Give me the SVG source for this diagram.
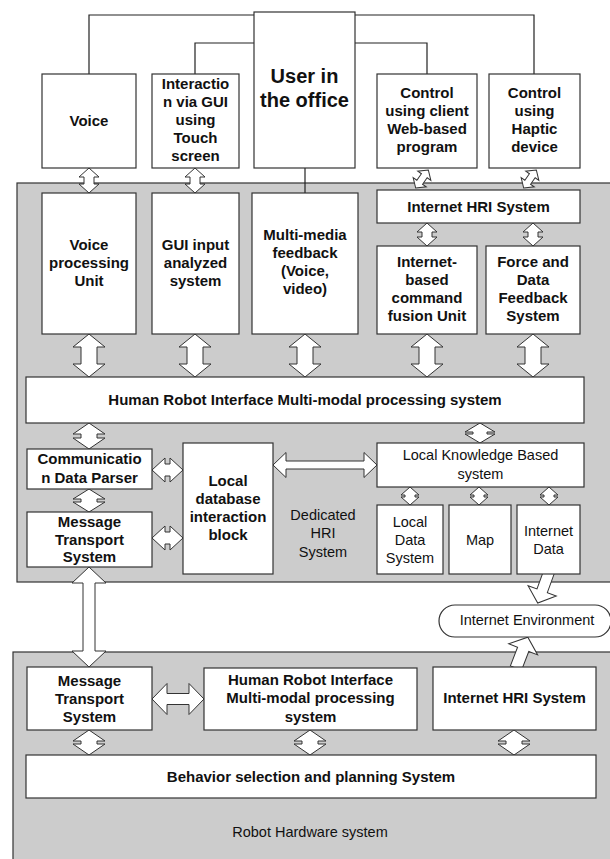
<svg xmlns="http://www.w3.org/2000/svg" width="610" height="859" viewBox="0 0 610 859">
<style>
.panel{fill:#cccccc;stroke:#333;stroke-width:1.2}
.box{fill:#fff;stroke:#333;stroke-width:1.2}
.ar{fill:#fff;stroke:#333;stroke-width:1}
.ln{fill:none;stroke:#222;stroke-width:1.2}
text{font-family:"Liberation Sans",Arial,sans-serif;fill:#111;text-anchor:middle}
.b{font-size:15px;font-weight:bold}
.u{font-size:20px;font-weight:bold}
.n{font-size:14.5px}
</style>
<rect class="panel" x="17" y="183" width="610" height="399"/>
<rect class="panel" x="13" y="652" width="620" height="220"/>
<g id="connectors">
<polyline class="ln" points="89,74 89,15 254,15"/>
<polyline class="ln" points="355,15 534,15 534,74"/>
<polyline class="ln" points="195,74 195,43 254,43"/>
<polyline class="ln" points="355,43 427,43 427,74"/>
<line class="ln" x1="305" y1="168" x2="305" y2="193"/>
<polygon class="ar" points="89,168 99,177 94,177 94,184 99,184 89,193 79,184 84,184 84,177 79,177"/>
<polygon class="ar" points="195,168 205,177 200,177 200,184 205,184 195,193 185,184 190,184 190,177 185,177"/>
<polygon class="ar" transform="translate(422,179) rotate(35)" points="0,-11 8,-4 3.5,-4 3.5,4 8,4 0,11 -8,4 -3.5,4 -3.5,-4 -8,-4"/>
<polygon class="ar" transform="translate(530,179) rotate(35)" points="0,-11 8,-4 3.5,-4 3.5,4 8,4 0,11 -8,4 -3.5,4 -3.5,-4 -8,-4"/>
<polygon class="ar" points="427,223 437,232 432,232 432,237 437,237 427,246 417,237 422,237 422,232 417,232"/>
<polygon class="ar" points="533,223 543,232 538,232 538,237 543,237 533,246 523,237 528,237 528,232 523,232"/>
<polygon class="ar" points="89,334 105,347 97,347 97,364 105,364 89,377 73,364 81,364 81,347 73,347"/>
<polygon class="ar" points="195,334 211,347 203,347 203,364 211,364 195,377 179,364 187,364 187,347 179,347"/>
<polygon class="ar" points="305,334 321,347 313,347 313,364 321,364 305,377 289,364 297,364 297,347 289,347"/>
<polygon class="ar" points="427,334 443,347 435,347 435,364 443,364 427,377 411,364 419,364 419,347 411,347"/>
<polygon class="ar" points="533,334 549,347 541,347 541,364 549,364 533,377 517,364 525,364 525,347 517,347"/>
<polygon class="ar" points="89,423 105,434 97,434 97,438 105,438 89,449 73,438 81,438 81,434 73,434"/>
<polygon class="ar" points="89,489 105,499 97,499 97,502 105,502 89,512 73,502 81,502 81,499 73,499"/>
<polygon class="ar" points="480,423 495,432 487,432 487,434 495,434 480,443 465,434 473,434 473,432 465,432"/>
<polygon class="ar" points="410,487 419,495 415,495 415,497 419,497 410,505 401,497 405,497 405,495 401,495"/>
<polygon class="ar" points="479,487 488,495 484,495 484,497 488,497 479,505 470,497 474,497 474,495 470,495"/>
<polygon class="ar" points="549,487 558,495 554,495 554,497 558,497 549,505 540,497 544,497 544,495 540,495"/>
<polygon class="ar" points="152,470 165,458 165,464 170,464 170,458 183,470 170,482 170,476 165,476 165,482"/>
<polygon class="ar" points="152,538 165,526 165,532 170,532 170,526 183,538 170,550 170,544 165,544 165,550"/>
<polygon class="ar" points="273,465 286,452.5 286,461 364,461 364,452.5 377,465 364,477.5 364,469 286,469 286,477.5"/>
<polygon class="ar" points="89,567 106,583 95,583 95,651 106,651 89,667 72,651 83,651 83,583 72,583"/>
<polygon class="ar" transform="translate(549,572) rotate(20)" points="-5.5,0 5.5,0 5.5,20 15,20 0,33 -15,20 -5.5,20"/>
<polygon class="ar" transform="translate(516,668) rotate(21)" points="-6,0 6,0 6,-20 15.5,-20 0,-33 -15.5,-20 -6,-20"/>
<polygon class="ar" points="152,699 167,683.5 167,693.5 189,693.5 189,683.5 204,699 189,714.5 189,704.5 167,704.5 167,714.5"/>
<polygon class="ar" points="89,730 105,741 97,741 97,744 105,744 89,755 73,744 81,744 81,741 73,741"/>
<polygon class="ar" points="310,730 326,741 318,741 318,744 326,744 310,755 294,744 302,744 302,741 294,741"/>
<polygon class="ar" points="514,730 530,741 522,741 522,744 530,744 514,755 498,744 506,744 506,741 498,741"/>
</g>
<g id="voice"><rect class="box" x="42" y="74" width="94" height="94"/><text class="b" x="89" y="126">Voice</text></g>
<g id="interaction"><rect class="box" x="152" y="74" width="87" height="94"/><text class="b" x="195.5"><tspan x="195.5" y="89">Interactio</tspan><tspan x="195.5" y="107">n via GUI</tspan><tspan x="195.5" y="125">using</tspan><tspan x="195.5" y="143">Touch</tspan><tspan x="195.5" y="161">screen</tspan></text></g>
<g id="user"><rect class="box" x="254" y="12" width="101" height="156"/><text class="u" x="304.5"><tspan x="304.5" y="83">User in</tspan><tspan x="304.5" y="107">the office</tspan></text></g>
<g id="control-web"><rect class="box" x="377" y="74" width="100" height="94"/><text class="b" x="427"><tspan x="427" y="98">Control</tspan><tspan x="427" y="116">using client</tspan><tspan x="427" y="134">Web-based</tspan><tspan x="427" y="152">program</tspan></text></g>
<g id="control-haptic"><rect class="box" x="489" y="74" width="91" height="94"/><text class="b" x="534.5"><tspan x="534.5" y="98">Control</tspan><tspan x="534.5" y="116">using</tspan><tspan x="534.5" y="134">Haptic</tspan><tspan x="534.5" y="152">device</tspan></text></g>
<g id="voice-processing"><rect class="box" x="42" y="193" width="94" height="141"/><text class="b" x="89"><tspan x="89" y="250">Voice</tspan><tspan x="89" y="268">processing</tspan><tspan x="89" y="286">Unit</tspan></text></g>
<g id="gui-input"><rect class="box" x="152" y="193" width="87" height="141"/><text class="b" x="195.5"><tspan x="195.5" y="250">GUI input</tspan><tspan x="195.5" y="268">analyzed</tspan><tspan x="195.5" y="286">system</tspan></text></g>
<g id="multimedia"><rect class="box" x="252" y="193" width="106" height="141"/><text class="b" x="305"><tspan x="305" y="240">Multi-media</tspan><tspan x="305" y="258">feedback</tspan><tspan x="305" y="276">(Voice,</tspan><tspan x="305" y="294">video)</tspan></text></g>
<g id="internet-hri-top"><rect class="box" x="377" y="190" width="203" height="33"/><text class="b" x="478.5" y="212">Internet HRI System</text></g>
<g id="command-fusion"><rect class="box" x="377" y="246" width="100" height="88"/><text class="b" x="427"><tspan x="427" y="267">Internet-</tspan><tspan x="427" y="285">based</tspan><tspan x="427" y="303">command</tspan><tspan x="427" y="321">fusion Unit</tspan></text></g>
<g id="force-feedback"><rect class="box" x="486" y="246" width="94" height="88"/><text class="b" x="533"><tspan x="533" y="267">Force and</tspan><tspan x="533" y="285">Data</tspan><tspan x="533" y="303">Feedback</tspan><tspan x="533" y="321">System</tspan></text></g>
<g id="hri-multimodal"><rect class="box" x="26" y="377" width="558" height="46"/><text class="b" x="305" y="405">Human Robot Interface Multi-modal processing system</text></g>
<g id="comm-parser"><rect class="box" x="27" y="449" width="125" height="40"/><text class="b" x="89.5"><tspan x="89.5" y="464">Communicatio</tspan><tspan x="89.5" y="483">n Data Parser</tspan></text></g>
<g id="mts-top"><rect class="box" x="27" y="512" width="125" height="55"/><text class="b" x="89.5"><tspan x="89.5" y="527">Message</tspan><tspan x="89.5" y="544.5">Transport</tspan><tspan x="89.5" y="562">System</tspan></text></g>
<g id="local-db"><rect class="box" x="183" y="443" width="90" height="131"/><text class="b" x="228"><tspan x="228" y="486">Local</tspan><tspan x="228" y="504">database</tspan><tspan x="228" y="522">interaction</tspan><tspan x="228" y="540">block</tspan></text></g>
<g id="dedicated-label"><text class="n" x="323"><tspan x="323" y="520">Dedicated</tspan><tspan x="323" y="538">HRI</tspan><tspan x="323" y="557">System</tspan></text></g>
<g id="lkb"><rect class="box" x="377" y="443" width="207" height="44"/><text class="n" x="480.5"><tspan x="480.5" y="460">Local Knowledge Based</tspan><tspan x="480.5" y="479">system</tspan></text></g>
<g id="local-data"><rect class="box" x="377" y="505" width="66" height="69"/><text class="n" x="410"><tspan x="410" y="527">Local</tspan><tspan x="410" y="545">Data</tspan><tspan x="410" y="563">System</tspan></text></g>
<g id="map"><rect class="box" x="449" y="505" width="62" height="69"/><text class="n" x="480" y="545">Map</text></g>
<g id="internet-data"><rect class="box" x="517" y="505" width="63" height="69"/><text class="n" x="548.5"><tspan x="548.5" y="536">Internet</tspan><tspan x="548.5" y="554">Data</tspan></text></g>
<g id="internet-env"><rect class="box" x="439" y="605" width="172" height="32" rx="16" ry="16"/><text class="n" x="527" y="625">Internet Environment</text></g>
<g id="mts-bottom"><rect class="box" x="27" y="667" width="125" height="63"/><text class="b" x="89.5"><tspan x="89.5" y="686">Message</tspan><tspan x="89.5" y="704">Transport</tspan><tspan x="89.5" y="722">System</tspan></text></g>
<g id="hri-bottom"><rect class="box" x="204" y="668" width="213" height="62"/><text class="b" x="310.5"><tspan x="310.5" y="685">Human Robot Interface</tspan><tspan x="310.5" y="703">Multi-modal processing</tspan><tspan x="310.5" y="722">system</tspan></text></g>
<g id="internet-hri-bottom"><rect class="box" x="433" y="667" width="163" height="63"/><text class="b" x="514.5" y="703">Internet HRI System</text></g>
<g id="behavior"><rect class="box" x="26" y="755" width="570" height="43"/><text class="b" x="311" y="782">Behavior selection and planning System</text></g>
<g id="robot-hw-label"><text class="n" x="310" y="837">Robot Hardware system</text></g>
</svg>
